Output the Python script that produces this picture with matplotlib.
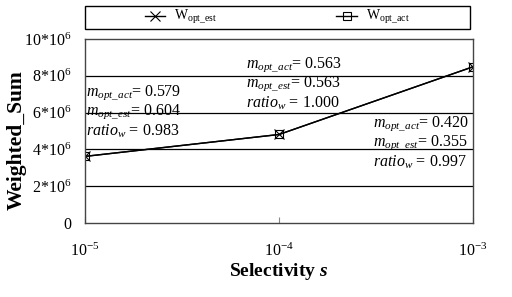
import matplotlib
matplotlib.use("Agg")
import matplotlib.pyplot as plt
from matplotlib.ticker import FixedLocator, NullLocator
from matplotlib.patches import Rectangle

plt.rcParams['font.family'] = ['Liberation Serif', 'DejaVu Serif']
plt.rcParams['mathtext.fontset'] = 'custom'
plt.rcParams['mathtext.rm'] = 'Liberation Serif'
plt.rcParams['mathtext.it'] = 'Liberation Serif:italic'
plt.rcParams['mathtext.bf'] = 'Liberation Serif:bold'
plt.rcParams['mathtext.bfit'] = 'Liberation Serif:italic:bold'
plt.rcParams['axes.unicode_minus'] = False

selectivity = [1e-5, 1e-4, 1e-3]
w_opt_est = [3.62e6, 4.81e6, 8.49e6]
w_opt_act = [3.62e6, 4.81e6, 8.49e6]
y_ticks = [0, 2e6, 4e6, 6e6, 8e6, 10e6]
y_tick_labels = ['0', '2*10$^6$', '4*10$^6$', '6*10$^6$', '8*10$^6$', '10*10$^6$']
x_tick_labels = ['10$^{-5}$', '10$^{-4}$', '10$^{-3}$']
annotations = [
    ("0.579", "0.604", "0.983"),
    ("0.563", "0.563", "1.000"),
    ("0.420", "0.355", "0.997"),
]

fig = plt.figure(figsize=(5.12, 2.97), dpi=100)
ax = fig.add_axes([85/512, 1-223/297, 388/512, 184/297])

l1, = ax.plot(selectivity, w_opt_est, color='black', lw=1.0, marker='x', ms=7, mew=0.8,
              label=r'$\mathrm{W}_{\mathrm{opt\_est}}$')
l2, = ax.plot(selectivity, w_opt_act, color='black', lw=1.0, marker='s', ms=6, mew=0.8,
              mfc='none', label=r'$\mathrm{W}_{\mathrm{opt\_act}}$')

ax.set_xscale('log')
ax.set_xlim(1e-5, 1e-3)
ax.set_ylim(0, 10e6)
ax.xaxis.set_major_locator(FixedLocator(selectivity))
ax.xaxis.set_minor_locator(NullLocator())
ax.set_xticklabels(x_tick_labels)
ax.set_yticks(y_ticks)
ax.set_yticklabels(y_tick_labels)
ax.tick_params(axis='x', direction='in', length=4, pad=14, labelsize=11.5, color='#888888')
ax.tick_params(axis='y', length=0, pad=10, labelsize=11.5)
for s in ax.spines.values():
    s.set_color('#444444')
    s.set_linewidth(1.0)
for yv in y_ticks[1:-1]:
    ax.axhline(yv, color='black', lw=0.9, zorder=0)

ax.set_ylabel('Weighted_Sum', fontsize=15.5, fontweight='bold')
ax.yaxis.set_label_coords((27-85)/388, (223-140)/184)
ax.set_xlabel(r'Selectivity $\mathbfit{s}$', fontsize=14, fontweight='bold', labelpad=1)

positions = [(86, 93), (246, 65), (373, 124)]
for (px, py), (a, e, r) in zip(positions, annotations):
    lines = [rf'$m_{{opt\_act}}$= {a}', rf'$m_{{opt\_est}}$= {e}', rf'$ratio_w$ = {r}']
    for i, t in enumerate(lines):
        fig.text(px/512, 1-(py + i*19)/297, t, fontsize=11.5, va='center', ha='left')

fig.patches.append(Rectangle((85/512, 1-29/297), 385/512, 23/297, transform=fig.transFigure,
                             fill=False, edgecolor='black', lw=1.0))
fig.legend(handles=[l1, l2], loc='center', bbox_to_anchor=(277/512, 1-17.5/297),
           ncol=2, frameon=False, fontsize=10, handlelength=1.5, handletextpad=0.6,
           columnspacing=8.6, borderaxespad=0)

fig.savefig('out.png', dpi=100)
